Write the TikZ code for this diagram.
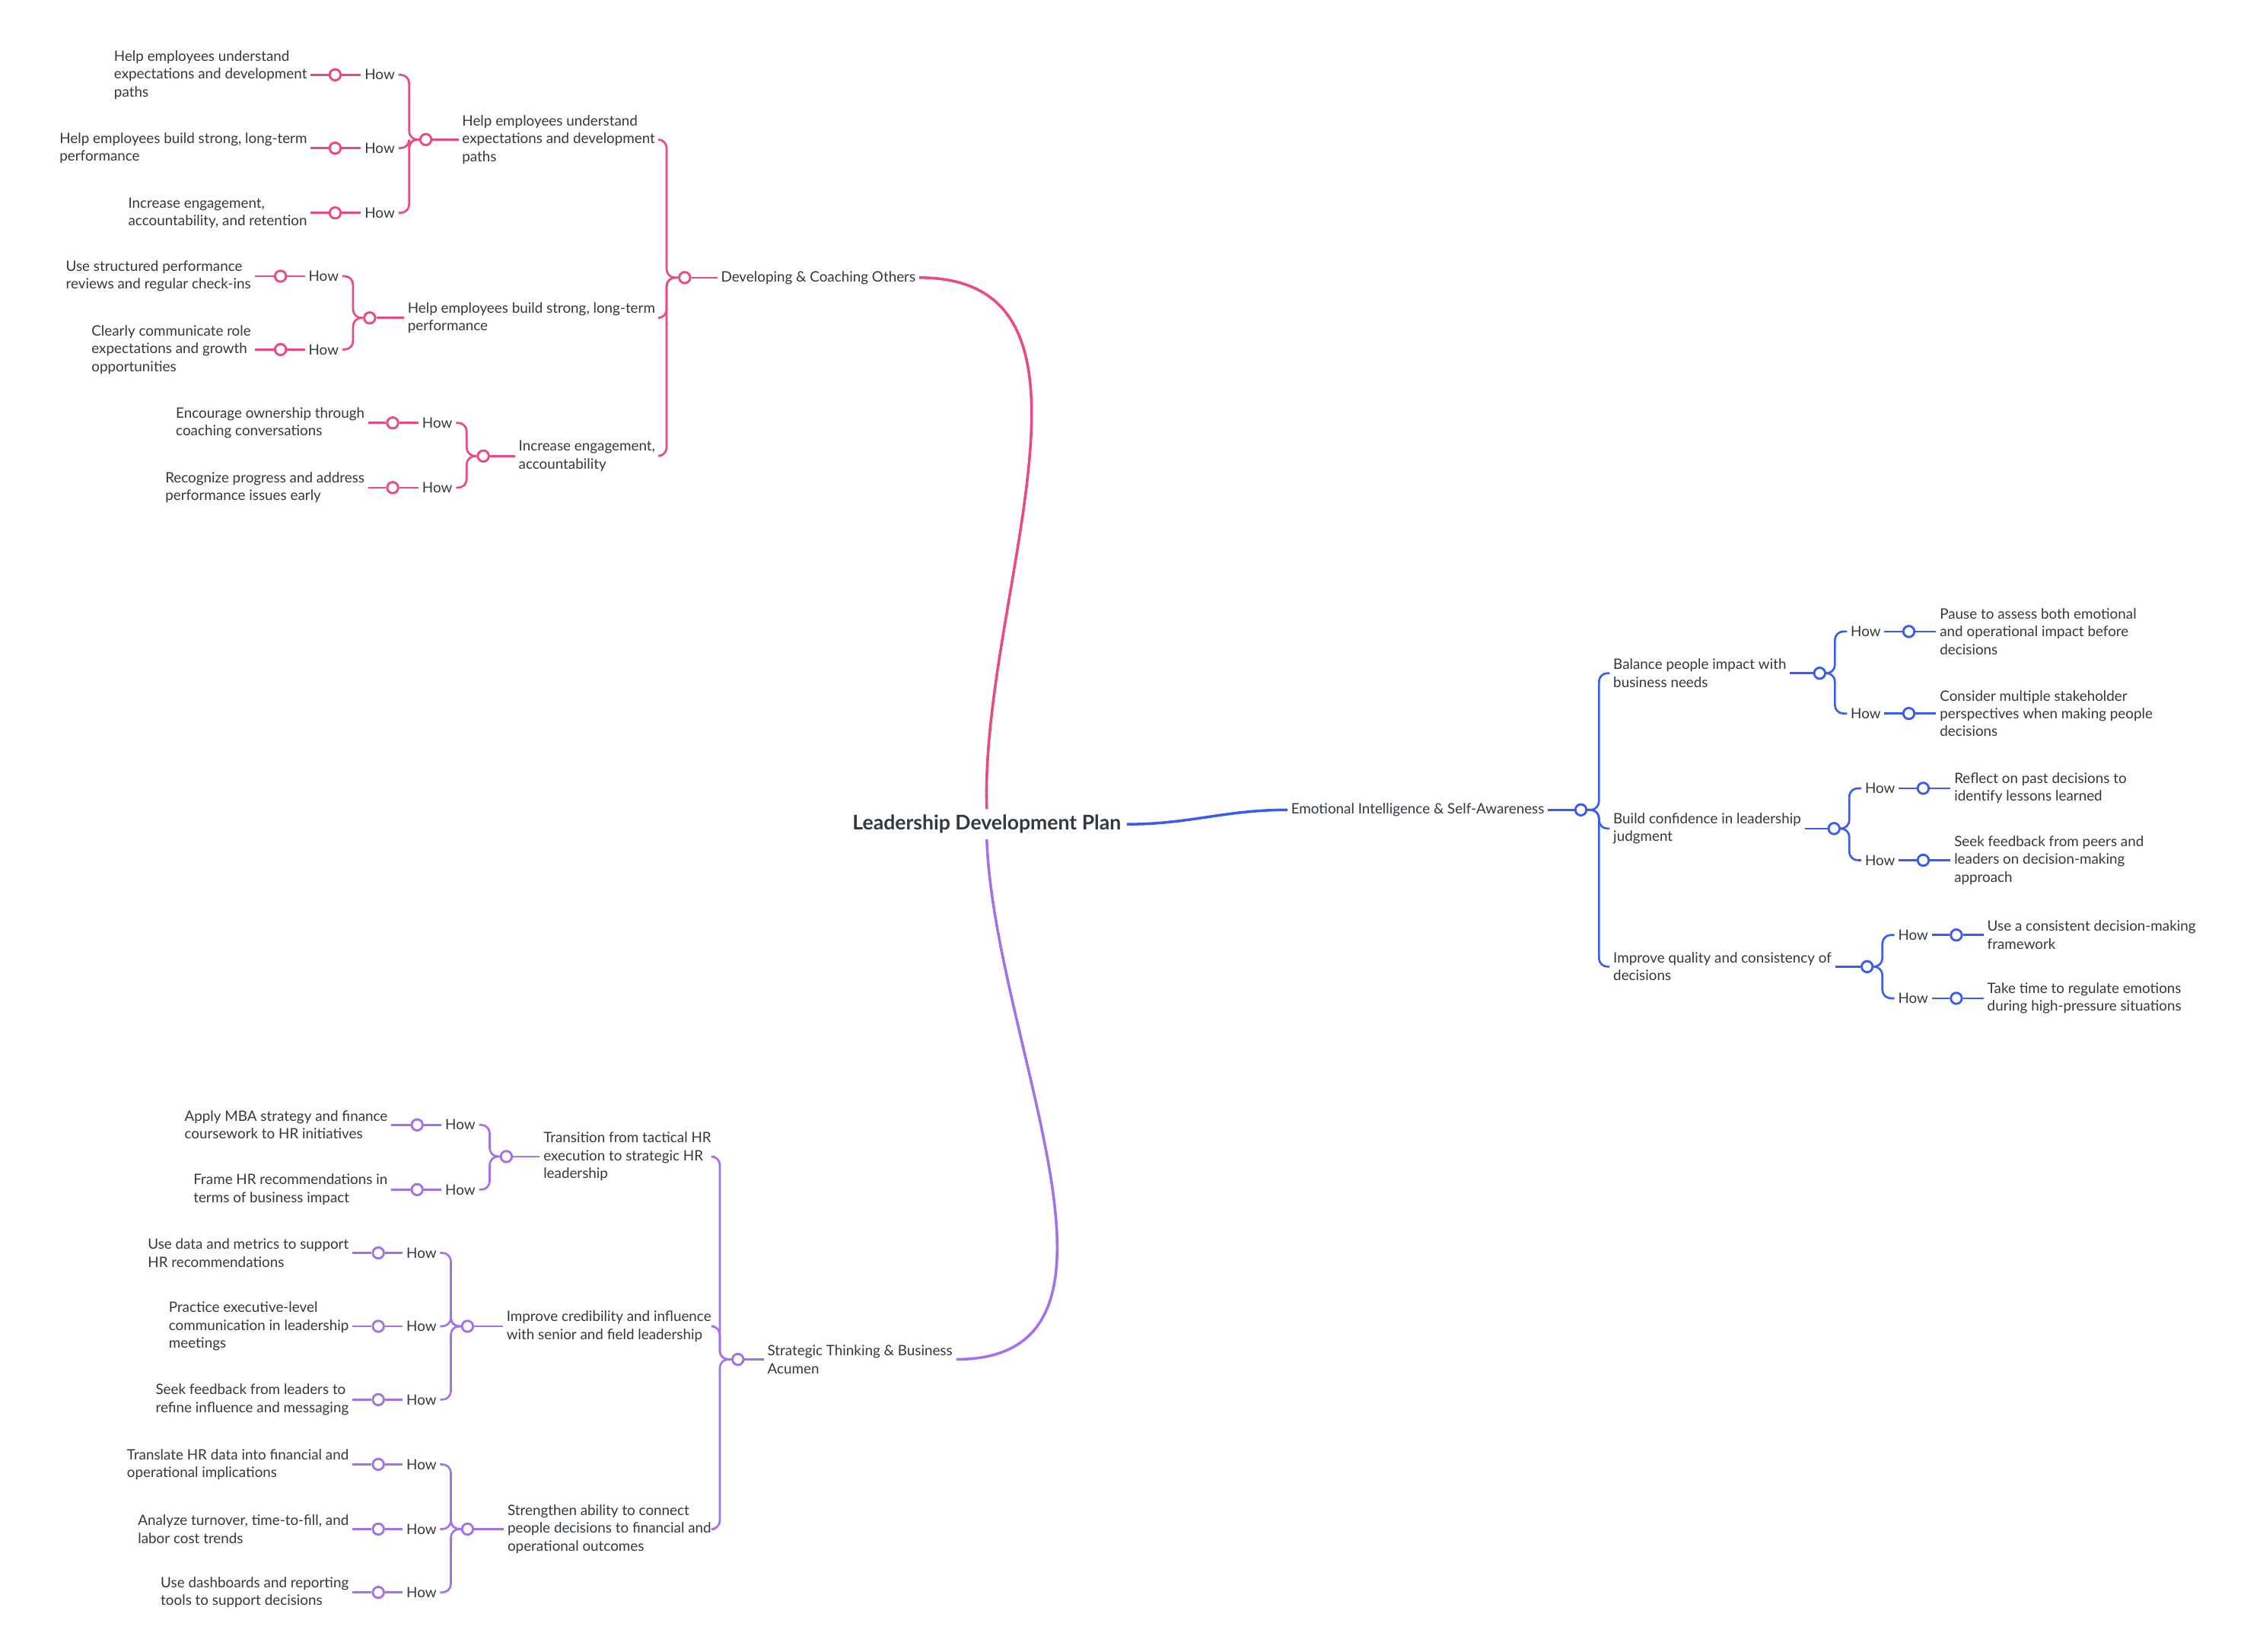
\documentclass[tikz,border=0pt]{standalone}
\usepackage{fontspec}
\setmainfont{Lato}
\usepackage{tikz}
\usetikzlibrary{positioning}
\definecolor{pinkc}{HTML}{EC4A7E}
\definecolor{bluec}{HTML}{3B5CF2}
\definecolor{purpc}{HTML}{A272EA}
\definecolor{txtc}{HTML}{333840}

\begin{document}
\begin{tikzpicture}
    [
    x=0.03cm, y=-0.03cm,
    txt/.style={text=txtc, font=\fontsize{8.5}{10.6}\selectfont, align=left, inner sep=2pt},
    knob/.style={circle, draw, fill=white, line width=1.3pt, inner sep=0pt, minimum size=2.3mm},
    lnk/.style={line width=1.2pt, rounded corners=5pt},
    main/.style={line width=1.6pt},
    ]
    \useasboundingbox (0,0) rectangle (1560,1148);
    \node (r) at (686,573) [text=txtc, font=\fontsize{12}{14}\selectfont\bfseries] {Leadership Development Plan};

    % developing & coaching others
    \begin{scope}[draw=pinkc, every node/.append style={draw=pinkc}]
    \node (dev) at (639,193) [txt, anchor=east, draw=none] {Developing \& Coaching Others};
    \node (devk) at (476,193) [knob] {};
    \draw [main, pinkc] (r.north) to[out=92,in=0] (dev.east);
    \draw [lnk, pinkc] (devk.east) -- (dev.west);

    \node (p1) at (458,97) [txt, anchor=east, draw=none] {Help employees understand\\expectations and development\\paths};
    \node (p2) at (458,221) [txt, anchor=east, draw=none] {Help employees build strong, long-term\\performance};
    \node (p3) at (458,317) [txt, anchor=east, draw=none] {Increase engagement,\\accountability};
    \draw [lnk, pinkc] (devk.west) -- ++(-8,0) |- (p1.east);
    \draw [lnk, pinkc] (devk.west) -- ++(-8,0) |- (p2.east);
    \draw [lnk, pinkc] (devk.west) -- ++(-8,0) |- (p3.east);
    \node (p1k) at (296,97) [knob] {};
    \node (p2k) at (257,221) [knob] {};
    \node (p3k) at (336,317) [knob] {};
    \draw [lnk, pinkc] (p1k.east) -- (p1.west);
    \draw [lnk, pinkc] (p2k.east) -- (p2.west);
    \draw [lnk, pinkc] (p3k.east) -- (p3.west);

    \node (p1ah) at (277,52) [txt, anchor=east, draw=none] {How};
    \node (p1bh) at (277,103) [txt, anchor=east, draw=none] {How};
    \node (p1ch) at (277,148) [txt, anchor=east, draw=none] {How};
    \node (p2ah) at (238,192) [txt, anchor=east, draw=none] {How};
    \node (p2bh) at (238,243) [txt, anchor=east, draw=none] {How};
    \node (p3ah) at (317,294) [txt, anchor=east, draw=none] {How};
    \node (p3bh) at (317,339) [txt, anchor=east, draw=none] {How};
    \draw [lnk, pinkc] (p1k.west) -- ++(-7,0) |- (p1ah.east);
    \draw [lnk, pinkc] (p1k.west) -- ++(-7,0) |- (p1bh.east);
    \draw [lnk, pinkc] (p1k.west) -- ++(-7,0) |- (p1ch.east);
    \draw [lnk, pinkc] (p2k.west) -- ++(-7,0) |- (p2ah.east);
    \draw [lnk, pinkc] (p2k.west) -- ++(-7,0) |- (p2bh.east);
    \draw [lnk, pinkc] (p3k.west) -- ++(-7,0) |- (p3ah.east);
    \draw [lnk, pinkc] (p3k.west) -- ++(-7,0) |- (p3bh.east);

    \node (p1ak) at (233,52) [knob] {};
    \node (p1bk) at (233,103) [knob] {};
    \node (p1ck) at (233,148) [knob] {};
    \node (p2ak) at (195,192) [knob] {};
    \node (p2bk) at (195,243) [knob] {};
    \node (p3ak) at (273,294) [knob] {};
    \node (p3bk) at (273,339) [knob] {};
    \node (p1a) at (216,52) [txt, anchor=east, draw=none] {Help employees understand\\expectations and development\\paths};
    \node (p1b) at (216,103) [txt, anchor=east, draw=none] {Help employees build strong, long-term\\performance};
    \node (p1c) at (216,148) [txt, anchor=east, draw=none] {Increase engagement,\\accountability, and retention};
    \node (p2a) at (177,192) [txt, anchor=east, draw=none] {Use structured performance\\reviews and regular check-ins};
    \node (p2b) at (177,243) [txt, anchor=east, draw=none] {Clearly communicate role\\expectations and growth\\opportunities};
    \node (p3a) at (256,294) [txt, anchor=east, draw=none] {Encourage ownership through\\coaching conversations};
    \node (p3b) at (256,339) [txt, anchor=east, draw=none] {Recognize progress and address\\performance issues early};
    \foreach \n in {p1a,p1b,p1c,p2a,p2b,p3a,p3b}
      \draw [lnk, pinkc] (\n.east) -- (\n k.west) (\n k.east) -- (\n h.west);
    \end{scope}

    % emotional intelligence
    \begin{scope}[every node/.append style={draw=bluec}]
    \node (emo) at (895,563) [txt, anchor=west, draw=none] {Emotional Intelligence \& Self-Awareness};
    \node (emok) at (1099,563) [knob] {};
    \draw [main, bluec] (r.east) to[out=0,in=180] (emo.west);
    \draw [lnk, bluec] (emo.east) -- (emok.west);

    \node (b1) at (1119,468) [txt, anchor=west, draw=none] {Balance people impact with\\business needs};
    \node (b2) at (1119,576) [txt, anchor=west, draw=none] {Build confidence in leadership\\judgment};
    \node (b3) at (1119,672) [txt, anchor=west, draw=none] {Improve quality and consistency of\\decisions};
    \draw [lnk, bluec] (emok.east) -- ++(8,0) |- (b1.west);
    \draw [lnk, bluec] (emok.east) -- ++(8,0) |- (b2.west);
    \draw [lnk, bluec] (emok.east) -- ++(8,0) |- (b3.west);
    \node (b1k) at (1265,468) [knob] {};
    \node (b2k) at (1275,576) [knob] {};
    \node (b3k) at (1298,672) [knob] {};
    \draw [lnk, bluec] (b1.east) -- (b1k.west);
    \draw [lnk, bluec] (b2.east) -- (b2k.west);
    \draw [lnk, bluec] (b3.east) -- (b3k.west);

    \node (b1ah) at (1284,439) [txt, anchor=west, draw=none] {How};
    \node (b1bh) at (1284,496) [txt, anchor=west, draw=none] {How};
    \node (b2ah) at (1294,548) [txt, anchor=west, draw=none] {How};
    \node (b2bh) at (1294,598) [txt, anchor=west, draw=none] {How};
    \node (b3ah) at (1317,650) [txt, anchor=west, draw=none] {How};
    \node (b3bh) at (1317,694) [txt, anchor=west, draw=none] {How};
    \draw [lnk, bluec] (b1k.east) -- ++(6,0) |- (b1ah.west);
    \draw [lnk, bluec] (b1k.east) -- ++(6,0) |- (b1bh.west);
    \draw [lnk, bluec] (b2k.east) -- ++(6,0) |- (b2ah.west);
    \draw [lnk, bluec] (b2k.east) -- ++(6,0) |- (b2bh.west);
    \draw [lnk, bluec] (b3k.east) -- ++(6,0) |- (b3ah.west);
    \draw [lnk, bluec] (b3k.east) -- ++(6,0) |- (b3bh.west);

    \node (b1ak) at (1327,439) [knob] {};
    \node (b1bk) at (1327,496) [knob] {};
    \node (b2ak) at (1337,548) [knob] {};
    \node (b2bk) at (1337,598) [knob] {};
    \node (b3ak) at (1360,650) [knob] {};
    \node (b3bk) at (1360,694) [knob] {};
    \node (b1a) at (1346,439) [txt, anchor=west, draw=none] {Pause to assess both emotional\\and operational impact before\\decisions};
    \node (b1b) at (1346,496) [txt, anchor=west, draw=none] {Consider multiple stakeholder\\perspectives when making people\\decisions};
    \node (b2a) at (1356,548) [txt, anchor=west, draw=none] {Reflect on past decisions to\\identify lessons learned};
    \node (b2b) at (1356,598) [txt, anchor=west, draw=none] {Seek feedback from peers and\\leaders on decision-making\\approach};
    \node (b3a) at (1379,650) [txt, anchor=west, draw=none] {Use a consistent decision-making\\framework};
    \node (b3b) at (1379,694) [txt, anchor=west, draw=none] {Take time to regulate emotions\\during high-pressure situations};
    \foreach \n in {b1a,b1b,b2a,b2b,b3a,b3b}
      \draw [lnk, bluec] (\n h.east) -- (\n k.west) (\n k.east) -- (\n.west);
    \end{scope}

    % strategic thinking
    \begin{scope}[every node/.append style={draw=purpc}]
    \node (str) at (531,945) [txt, anchor=west, draw=none] {Strategic Thinking \& Business\\Acumen};
    \node (strk) at (513,945) [knob] {};
    \draw [main, purpc] (r.south) to[out=-88,in=0] (str.east);
    \draw [lnk, purpc] (strk.east) -- (str.west);

    \node (s1) at (497,804) [txt, anchor=east, draw=none] {Transition from tactical HR\\execution to strategic HR\\leadership};
    \node (s2) at (497,922) [txt, anchor=east, draw=none] {Improve credibility and influence\\with senior and field leadership};
    \node (s3) at (497,1063) [txt, anchor=east, draw=none] {Strengthen ability to connect\\people decisions to financial and\\operational outcomes};
    \draw [lnk, purpc] (strk.west) -- ++(-8,0) |- (s1.east);
    \draw [lnk, purpc] (strk.west) -- ++(-8,0) |- (s2.east);
    \draw [lnk, purpc] (strk.west) -- ++(-8,0) |- (s3.east);
    \node (s1k) at (352,804) [knob] {};
    \node (s2k) at (325,922) [knob] {};
    \node (s3k) at (325,1063) [knob] {};
    \draw [lnk, purpc] (s1k.east) -- (s1.west);
    \draw [lnk, purpc] (s2k.east) -- (s2.west);
    \draw [lnk, purpc] (s3k.east) -- (s3.west);

    \node (s1ah) at (333,782) [txt, anchor=east, draw=none] {How};
    \node (s1bh) at (333,827) [txt, anchor=east, draw=none] {How};
    \node (s2ah) at (306,871) [txt, anchor=east, draw=none] {How};
    \node (s2bh) at (306,922) [txt, anchor=east, draw=none] {How};
    \node (s2ch) at (306,973) [txt, anchor=east, draw=none] {How};
    \node (s3ah) at (306,1018) [txt, anchor=east, draw=none] {How};
    \node (s3bh) at (306,1063) [txt, anchor=east, draw=none] {How};
    \node (s3ch) at (306,1107) [txt, anchor=east, draw=none] {How};
    \foreach \n/\k in {s1ah/s1k,s1bh/s1k,s2ah/s2k,s2bh/s2k,s2ch/s2k,s3ah/s3k,s3bh/s3k,s3ch/s3k}
      \draw [lnk, purpc] (\k.west) -- ++(-7,0) |- (\n.east);

    \node (s1ak) at (290,782) [knob] {};
    \node (s1bk) at (290,827) [knob] {};
    \node (s2ak) at (263,871) [knob] {};
    \node (s2bk) at (263,922) [knob] {};
    \node (s2ck) at (263,973) [knob] {};
    \node (s3ak) at (263,1018) [knob] {};
    \node (s3bk) at (263,1063) [knob] {};
    \node (s3ck) at (263,1107) [knob] {};
    \node (s1a) at (272,782) [txt, anchor=east, draw=none] {Apply MBA strategy and finance\\coursework to HR initiatives};
    \node (s1b) at (272,827) [txt, anchor=east, draw=none] {Frame HR recommendations in\\terms of business impact};
    \node (s2a) at (245,871) [txt, anchor=east, draw=none] {Use data and metrics to support\\HR recommendations};
    \node (s2b) at (245,922) [txt, anchor=east, draw=none] {Practice executive-level\\communication in leadership\\meetings};
    \node (s2c) at (245,973) [txt, anchor=east, draw=none] {Seek feedback from leaders to\\refine influence and messaging};
    \node (s3a) at (245,1018) [txt, anchor=east, draw=none] {Translate HR data into financial and\\operational implications};
    \node (s3b) at (245,1063) [txt, anchor=east, draw=none] {Analyze turnover, time-to-fill, and\\labor cost trends};
    \node (s3c) at (245,1107) [txt, anchor=east, draw=none] {Use dashboards and reporting\\tools to support decisions};
    \foreach \n in {s1a,s1b,s2a,s2b,s2c,s3a,s3b,s3c}
      \draw [lnk, purpc] (\n.east) -- (\n k.west) (\n k.east) -- (\n h.west);
    \end{scope}
  \end{tikzpicture}
\end{document}
